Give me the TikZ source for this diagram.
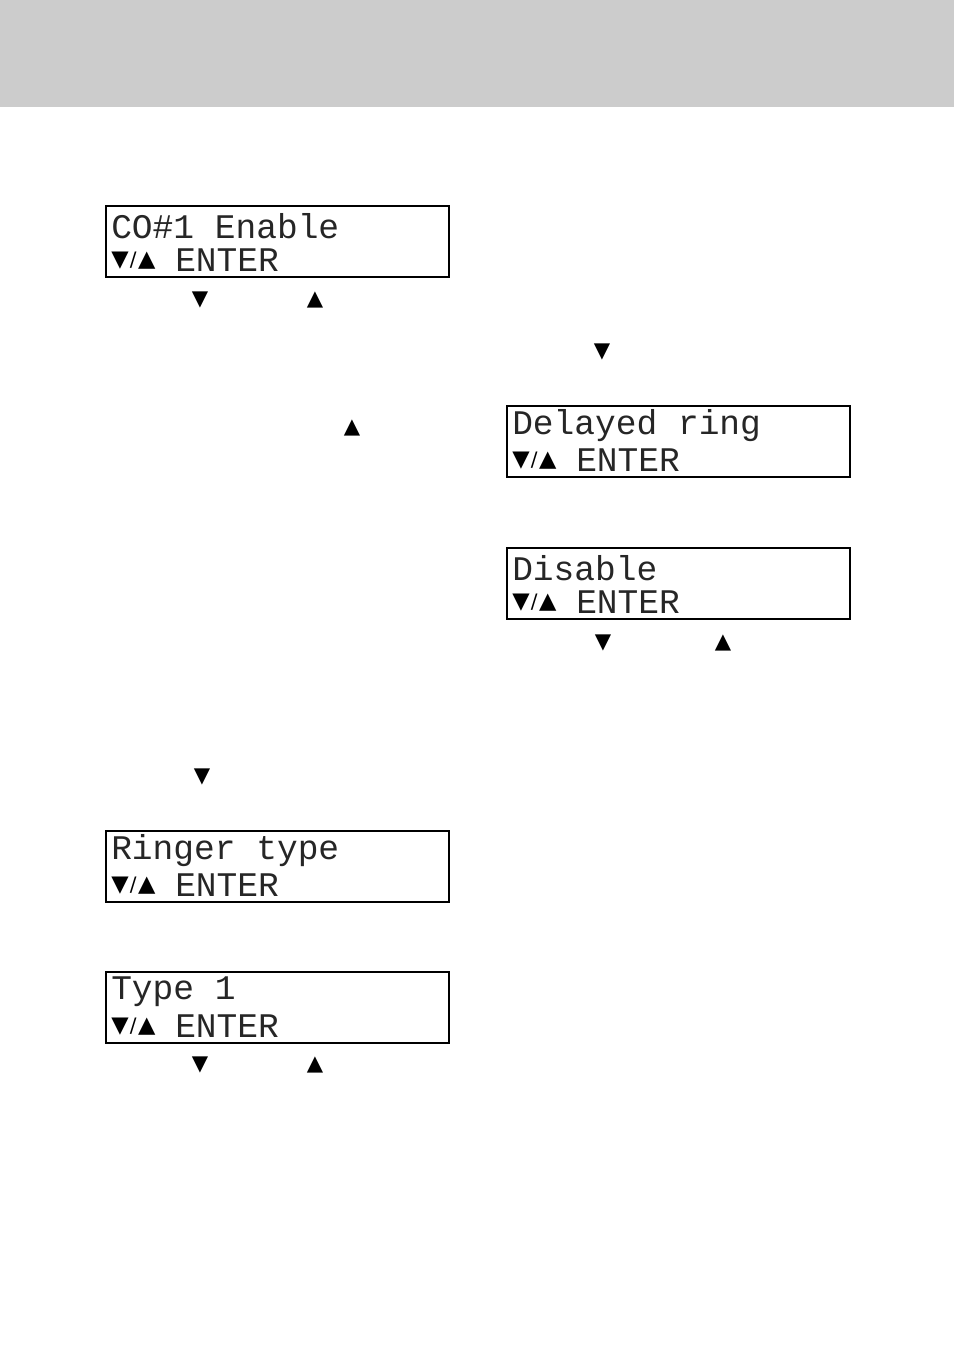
\documentclass[tikz,border=0pt]{standalone}
\usepackage{fontspec}
\setmonofont{Liberation Mono}
\newfontfamily\symfont{DejaVu Sans}
\usetikzlibrary{positioning}

\tikzset{
  lcd/.style={draw, line width=1.2pt, minimum width=343*0.02646cm, minimum height=71*0.02646cm, inner sep=0pt},
  lcdtext/.style={font=\ttfamily\fontsize{26}{26}\selectfont, inner sep=0pt, anchor=west, text=black!85},
  keys/.style={font=\symfont\fontsize{17}{17}\selectfont, inner sep=0pt, anchor=west},
  key/.style={font=\symfont\fontsize{16}{16}\selectfont, inner sep=0pt}
}

% display with two rows
\newcommand{\lcdbox}[4]{%
  \node[lcd, anchor=north west] (#1) at (#2) {};
  \node[lcdtext] (#1top) at ([xshift=6*0.02646cm, yshift=-21*0.02646cm]#1.north west) {#3};
  \node[keys] (#1keys) at ([xshift=6*0.02646cm, yshift=17*0.02646cm]#1.south west) {▼\kern1pt{\fontsize{15}{15}\selectfont/}\kern1pt▲};
  \node[lcdtext] (#1enter) at ([xshift=70*0.02646cm, yshift=17*0.02646cm]#1.south west) {#4};
}

\begin{document}
\begin{tikzpicture}[x=0.02646cm, y=-0.02646cm]
\useasboundingbox (0,0) rectangle (954,1355);
\fill[black!20] (0,0) rectangle (954,107);

% left column
\lcdbox{co}{105,205}{CO\#1 Enable}{ENTER}
\node[key] (codown) at (200,300) {▼};
\node[key] (coup)   at (315,300) {▲};
\node[key] (up2)    at (352,428) {▲};
\node[key] (down2)  at (202,777) {▼};
\lcdbox{ringer}{105,830}{Ringer type}{ENTER}
\lcdbox{type}{105,971}{Type 1}{ENTER}
\node[key] (typedown) at (200,1065) {▼};
\node[key] (typeup)   at (315,1065) {▲};

% right column
\node[key] (down3) at (602,352) {▼};
\lcdbox{delay}{506,405}{Delayed ring}{ENTER}
\lcdbox{dis}{506,547}{Disable}{ENTER}
\node[key] (disdown) at (603,643) {▼};
\node[key] (disup)   at (723,643) {▲};
\end{tikzpicture}
\end{document}
